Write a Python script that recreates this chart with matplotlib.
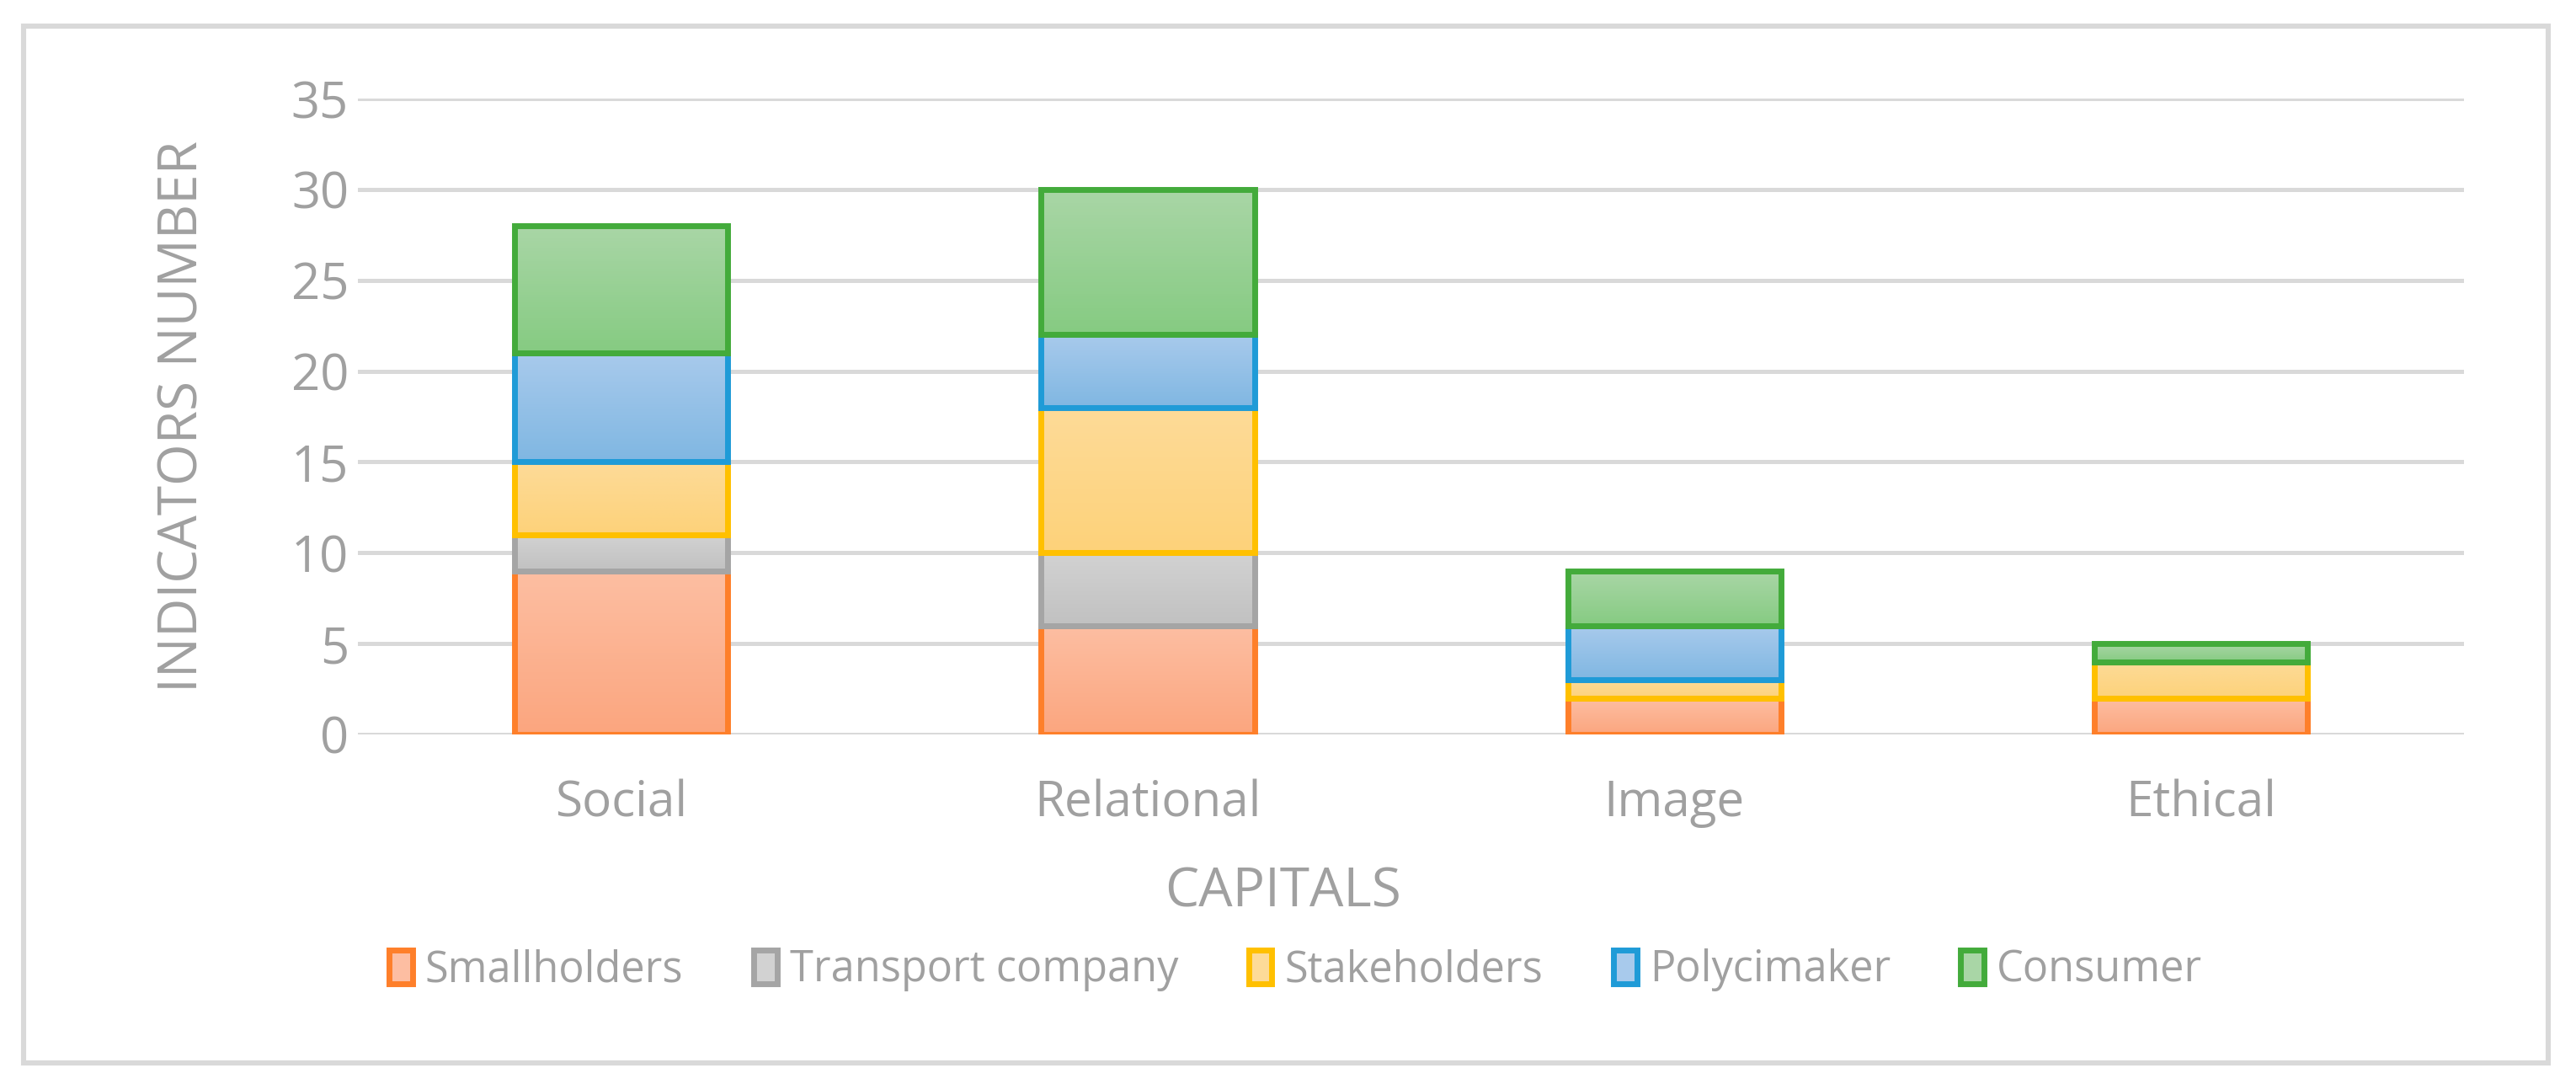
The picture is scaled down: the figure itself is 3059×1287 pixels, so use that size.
import numpy as np
import matplotlib
matplotlib.use("Agg")
from matplotlib import pyplot as plt
from matplotlib.patches import Rectangle
from matplotlib.colors import LinearSegmentedColormap

plt.rcParams['font.family'] = ['Open Sans', 'DejaVu Sans']

# data
capitals = ['Social', 'Relational', 'Image', 'Ethical']
series = ['Smallholders', 'Transport company', 'Stakeholders', 'Polycimaker', 'Consumer']
smallholders = [9, 6, 2, 2]
transport = [2, 4, 0, 0]
stakeholders = [4, 8, 1, 2]
policymaker = [6, 4, 3, 0]
consumer = [7, 8, 3, 1]
values = [smallholders, transport, stakeholders, policymaker, consumer]

# style: (edge, gradient top, gradient bottom)
edges = ['#fe7f2a', '#a5a5a5', '#ffc000', '#1f9bd7', '#43ab3b']
tops = ['#fdbea2', '#d2d2d2', '#fddb98', '#a8caec', '#a9d6a6']
bottoms = ['#fba67f', '#c1c1c1', '#fdd27a', '#80b7e2', '#86cb82']
grey = '#a0a0a0'

fig = plt.figure(figsize=(15.295, 6.435), dpi=200)
ax = fig.add_axes([0.139, 0.3225, 0.8175, 0.5865])

x = np.arange(len(capitals))
bottom = np.zeros(len(capitals))
for i, vals in enumerate(values):
    bars = ax.bar(x, vals, 0.405, bottom=bottom, color='none',
                  edgecolor=edges[i], linewidth=2.5, zorder=3 + i)
    cmap = LinearSegmentedColormap.from_list('g%d' % i, [bottoms[i], tops[i]])
    for b in bars:
        if b.get_height() == 0:
            b.set_visible(False)
            continue
        im = ax.imshow(np.linspace(0, 1, 50).reshape(-1, 1), cmap=cmap,
                       origin='lower', aspect='auto', zorder=2.5 + i,
                       extent=[b.get_x(), b.get_x() + b.get_width(),
                               b.get_y(), b.get_y() + b.get_height()])
        im.set_clip_path(b)
    bottom += np.array(vals)

ax.set_xlim(-0.5, len(capitals) - 0.5)
ax.set_ylim(0, 35)
ax.set_yticks(range(0, 36, 5))
ax.set_xticks(x)
ax.set_xticklabels(capitals)
ax.grid(axis='y', color='#d9d9d9', linewidth=1.8, zorder=0)
ax.set_axisbelow(True)
for s in ax.spines.values():
    s.set_visible(False)
ax.tick_params(length=0, colors=grey)
ax.tick_params(axis='y', labelsize=21.5, pad=4)
ax.tick_params(axis='x', labelsize=21, pad=19)
ax.set_xlabel('CAPITALS', fontsize=23, color=grey, va='center')
ax.xaxis.set_label_coords(0.439, -0.249)
ax.set_ylabel('INDICATORS NUMBER', fontsize=23, color=grey, va='center')
ax.yaxis.set_label_coords(-0.083, 0.5)

handles = [Rectangle((0, 0), 1, 1, facecolor=tops[i], edgecolor=edges[i], linewidth=2.5)
           for i in range(len(series))]
fig.legend(handles, series, loc='center', bbox_to_anchor=(0.503, 0.105), ncol=5,
           frameon=False, fontsize=18.2, labelcolor=grey, handlelength=0.55,
           handleheight=0.85, handletextpad=0.3, columnspacing=1.65)

fig.add_artist(Rectangle((0.0092, 0.0195), 0.98, 0.9561, transform=fig.transFigure,
                         fill=False, edgecolor='#d9d9d9', linewidth=2.2))

fig.savefig('out.png', dpi=200)
